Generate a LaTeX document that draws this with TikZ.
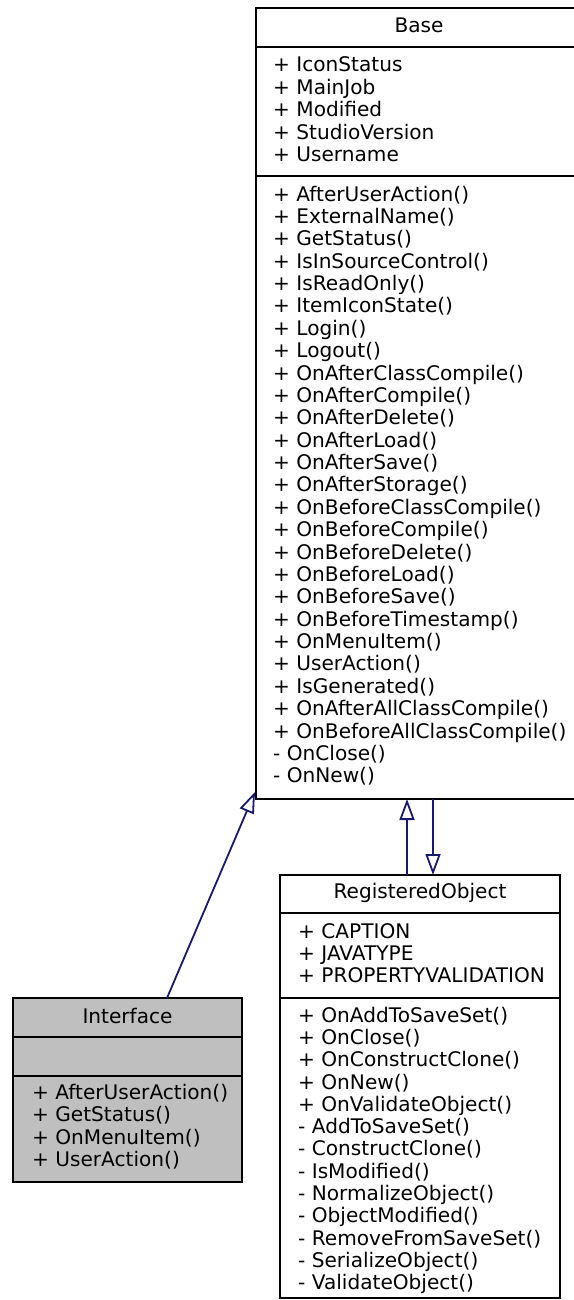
\documentclass[tikz,border=0pt]{standalone}
\usepackage{fontspec}
\setmainfont{DejaVu Sans}
\usetikzlibrary{arrows.meta}
\definecolor{edgeblue}{HTML}{191970}
\definecolor{ifill}{HTML}{BFBFBF}
\begin{document}
\begin{tikzpicture}[x=1pt,y=-1pt,
  cls/.style={draw=black, line width=2pt, anchor=north west, inner sep=0pt, outer sep=0pt},
  sepline/.style={draw=black, line width=2pt},
  txt/.style={anchor=base west, inner sep=0pt, font=\fontsize{20.1}{22}\selectfont},
  ttl/.style={anchor=base, inner sep=0pt, font=\fontsize{20.1}{22}\selectfont},
  inh/.style={draw=edgeblue, line width=1.8pt, -{Triangle[open, length=21pt, width=15pt]}}
]
\useasboundingbox (0,0) rectangle (573,1300);
\fill[white] (0,0) rectangle (573,1300);

% Base
\node[cls, minimum width=326pt, minimum height=791pt] (base) at (256,8) {};
\draw[sepline] (256,47) -- (582,47);
\draw[sepline] (256,176) -- (582,176);
\node[ttl] (btitle) at (419,33) {Base};
\foreach [count=\i from 0] \t in {+ IconStatus, + MainJob, + Modified, + StudioVersion, + Username}
  \node[txt] (ba\i) at (273,72+22.5*\i) {\t};
\foreach [count=\i from 0] \t in {+ AfterUserAction(), + ExternalName(), + GetStatus(), + IsInSourceControl(), + IsReadOnly(), + ItemIconState(), + Login(), + Logout(), + OnAfterClassCompile(), + OnAfterCompile(), + OnAfterDelete(), + OnAfterLoad(), + OnAfterSave(), + OnAfterStorage(), + OnBeforeClassCompile(), + OnBeforeCompile(), + OnBeforeDelete(), + OnBeforeLoad(), + OnBeforeSave(), + OnBeforeTimestamp(), + OnMenuItem(), + UserAction(), + IsGenerated(), + OnAfterAllClassCompile(), + OnBeforeAllClassCompile(), - OnClose(), - OnNew()}
  \node[txt] (bm\i) at (273,201+22.38*\i) {\t};

% Interface
\node[cls, fill=ifill, minimum width=229pt, minimum height=184pt] (iface) at (13,998) {};
\draw[sepline] (13,1037) -- (242,1037);
\draw[sepline] (13,1076) -- (242,1076);
\node[ttl] (ititle) at (127.5,1023) {Interface};
\foreach [count=\i from 0] \t in {+ AfterUserAction(), + GetStatus(), + OnMenuItem(), + UserAction()}
  \node[txt] (im\i) at (32,1099+22.6*\i) {\t};

% RegisteredObject
\node[cls, minimum width=280pt, minimum height=423pt] (reg) at (280,875) {};
\draw[sepline] (280,913) -- (560,913);
\draw[sepline] (280,998) -- (560,998);
\node[ttl] (rtitle) at (420,898) {RegisteredObject};
\foreach [count=\i from 0] \t in {+ CAPTION, + JAVATYPE, + PROPERTYVALIDATION}
  \node[txt] (ra\i) at (298,938+22*\i) {\t};
\foreach [count=\i from 0] \t in {+ OnAddToSaveSet(), + OnClose(), + OnConstructClone(), + OnNew(), + OnValidateObject(), - AddToSaveSet(), - ConstructClone(), - IsModified(), - NormalizeObject(), - ObjectModified(), - RemoveFromSaveSet(), - SerializeObject(), - ValidateObject()}
  \node[txt] (rm\i) at (298,1022+22.33*\i) {\t};

% Connectors
\coordinate (ib) at (167,998);
\coordinate (bi) at (255,792);
\draw[inh] (ib) -- (bi);
\coordinate (rb) at (407,875);
\coordinate (br) at (407,799);
\draw[inh] (rb) -- (br);
\coordinate (bs) at (433,799);
\coordinate (rs) at (433,875);
\draw[inh] (bs) -- (rs);
\end{tikzpicture}
\end{document}
